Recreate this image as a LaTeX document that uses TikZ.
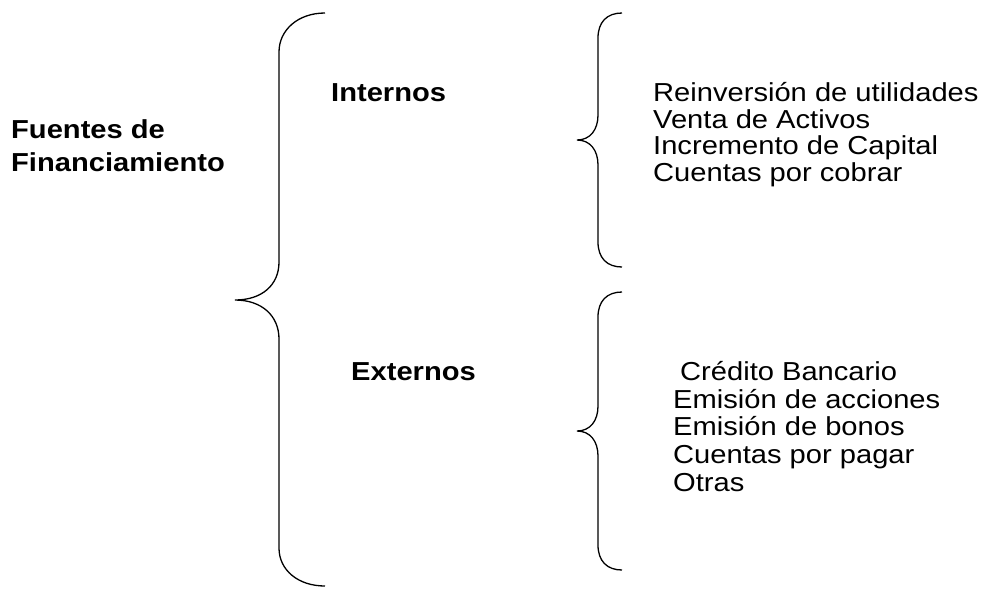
\documentclass[tikz,border=0pt]{standalone}
\usepackage{fontspec}
\setmainfont{Liberation Sans}[FakeStretch=1.12]

\tikzset{
  txt/.style={anchor=base west, inner sep=0pt, font=\fontsize{26}{28}\selectfont},
  hd/.style={txt, font=\fontsize{26}{28}\selectfont\bfseries},
  brc/.style={line width=1.3pt}
}

\begin{document}
\begin{tikzpicture}[x=1pt, y=1pt]

  \newcommand\dYa{26.6}
  \newcommand\dYb{27.6}

  \useasboundingbox (0,0) rectangle (995,-590);

  %% big brace
  \draw[brc] (325,-13) .. controls (298,-13) and (279,-30) .. (279,-52)
  -- (279,-262) .. controls (279,-285) and (262,-300) .. (235,-300)
  .. controls (262,-300) and (279,-316) .. (279,-339)
  -- (279,-548) .. controls (279,-570) and (298,-586) .. (325,-586);

  %% internos brace
  \draw[brc] (622,-13) .. controls (607,-13) and (598,-22) .. (598,-38)
  -- (598,-115) .. controls (598,-130) and (590,-140) .. (577,-140)
  .. controls (590,-140) and (598,-150) .. (598,-165)
  -- (598,-242) .. controls (598,-258) and (607,-267) .. (622,-267);

  %% externos brace
  \draw[brc] (622,-292) .. controls (607,-292) and (598,-301) .. (598,-317)
  -- (598,-406) .. controls (598,-421) and (590,-431) .. (577,-431)
  .. controls (590,-431) and (598,-441) .. (598,-456)
  -- (598,-545) .. controls (598,-561) and (607,-570) .. (622,-570);

  %% left title
  \node[hd] (fuentes) at (11,-138) {Fuentes de};
  \node[hd] (financ) at (11,-171.5) {Financiamiento};

  \node[hd] (internos) at (331,-101.7) {Internos};
  \node[hd] (externos) at (351,-380) {Externos};

  %% internos
  \node[txt] (reinv) at (653,-101.7) {Reinversión de utilidades};
  \node[txt] (venta) at (653,-101.7-1*\dYa) {Venta de Activos};
  \node[txt] (increm) at (653,-101.7-2*\dYa) {Incremento de Capital};
  \node[txt] (cobrar) at (653,-101.7-3*\dYa) {Cuentas por cobrar};

  %% externos
  \node[txt] (credito) at (680,-380.7) {Crédito Bancario};
  \node[txt] (acciones) at (673,-380.7-1*\dYb) {Emisión de acciones};
  \node[txt] (bonos) at (673,-380.7-2*\dYb) {Emisión de bonos};
  \node[txt] (pagar) at (673,-380.7-3*\dYb) {Cuentas por pagar};
  \node[txt] (otras) at (673,-380.7-4*\dYb) {Otras};

\end{tikzpicture}
\end{document}
